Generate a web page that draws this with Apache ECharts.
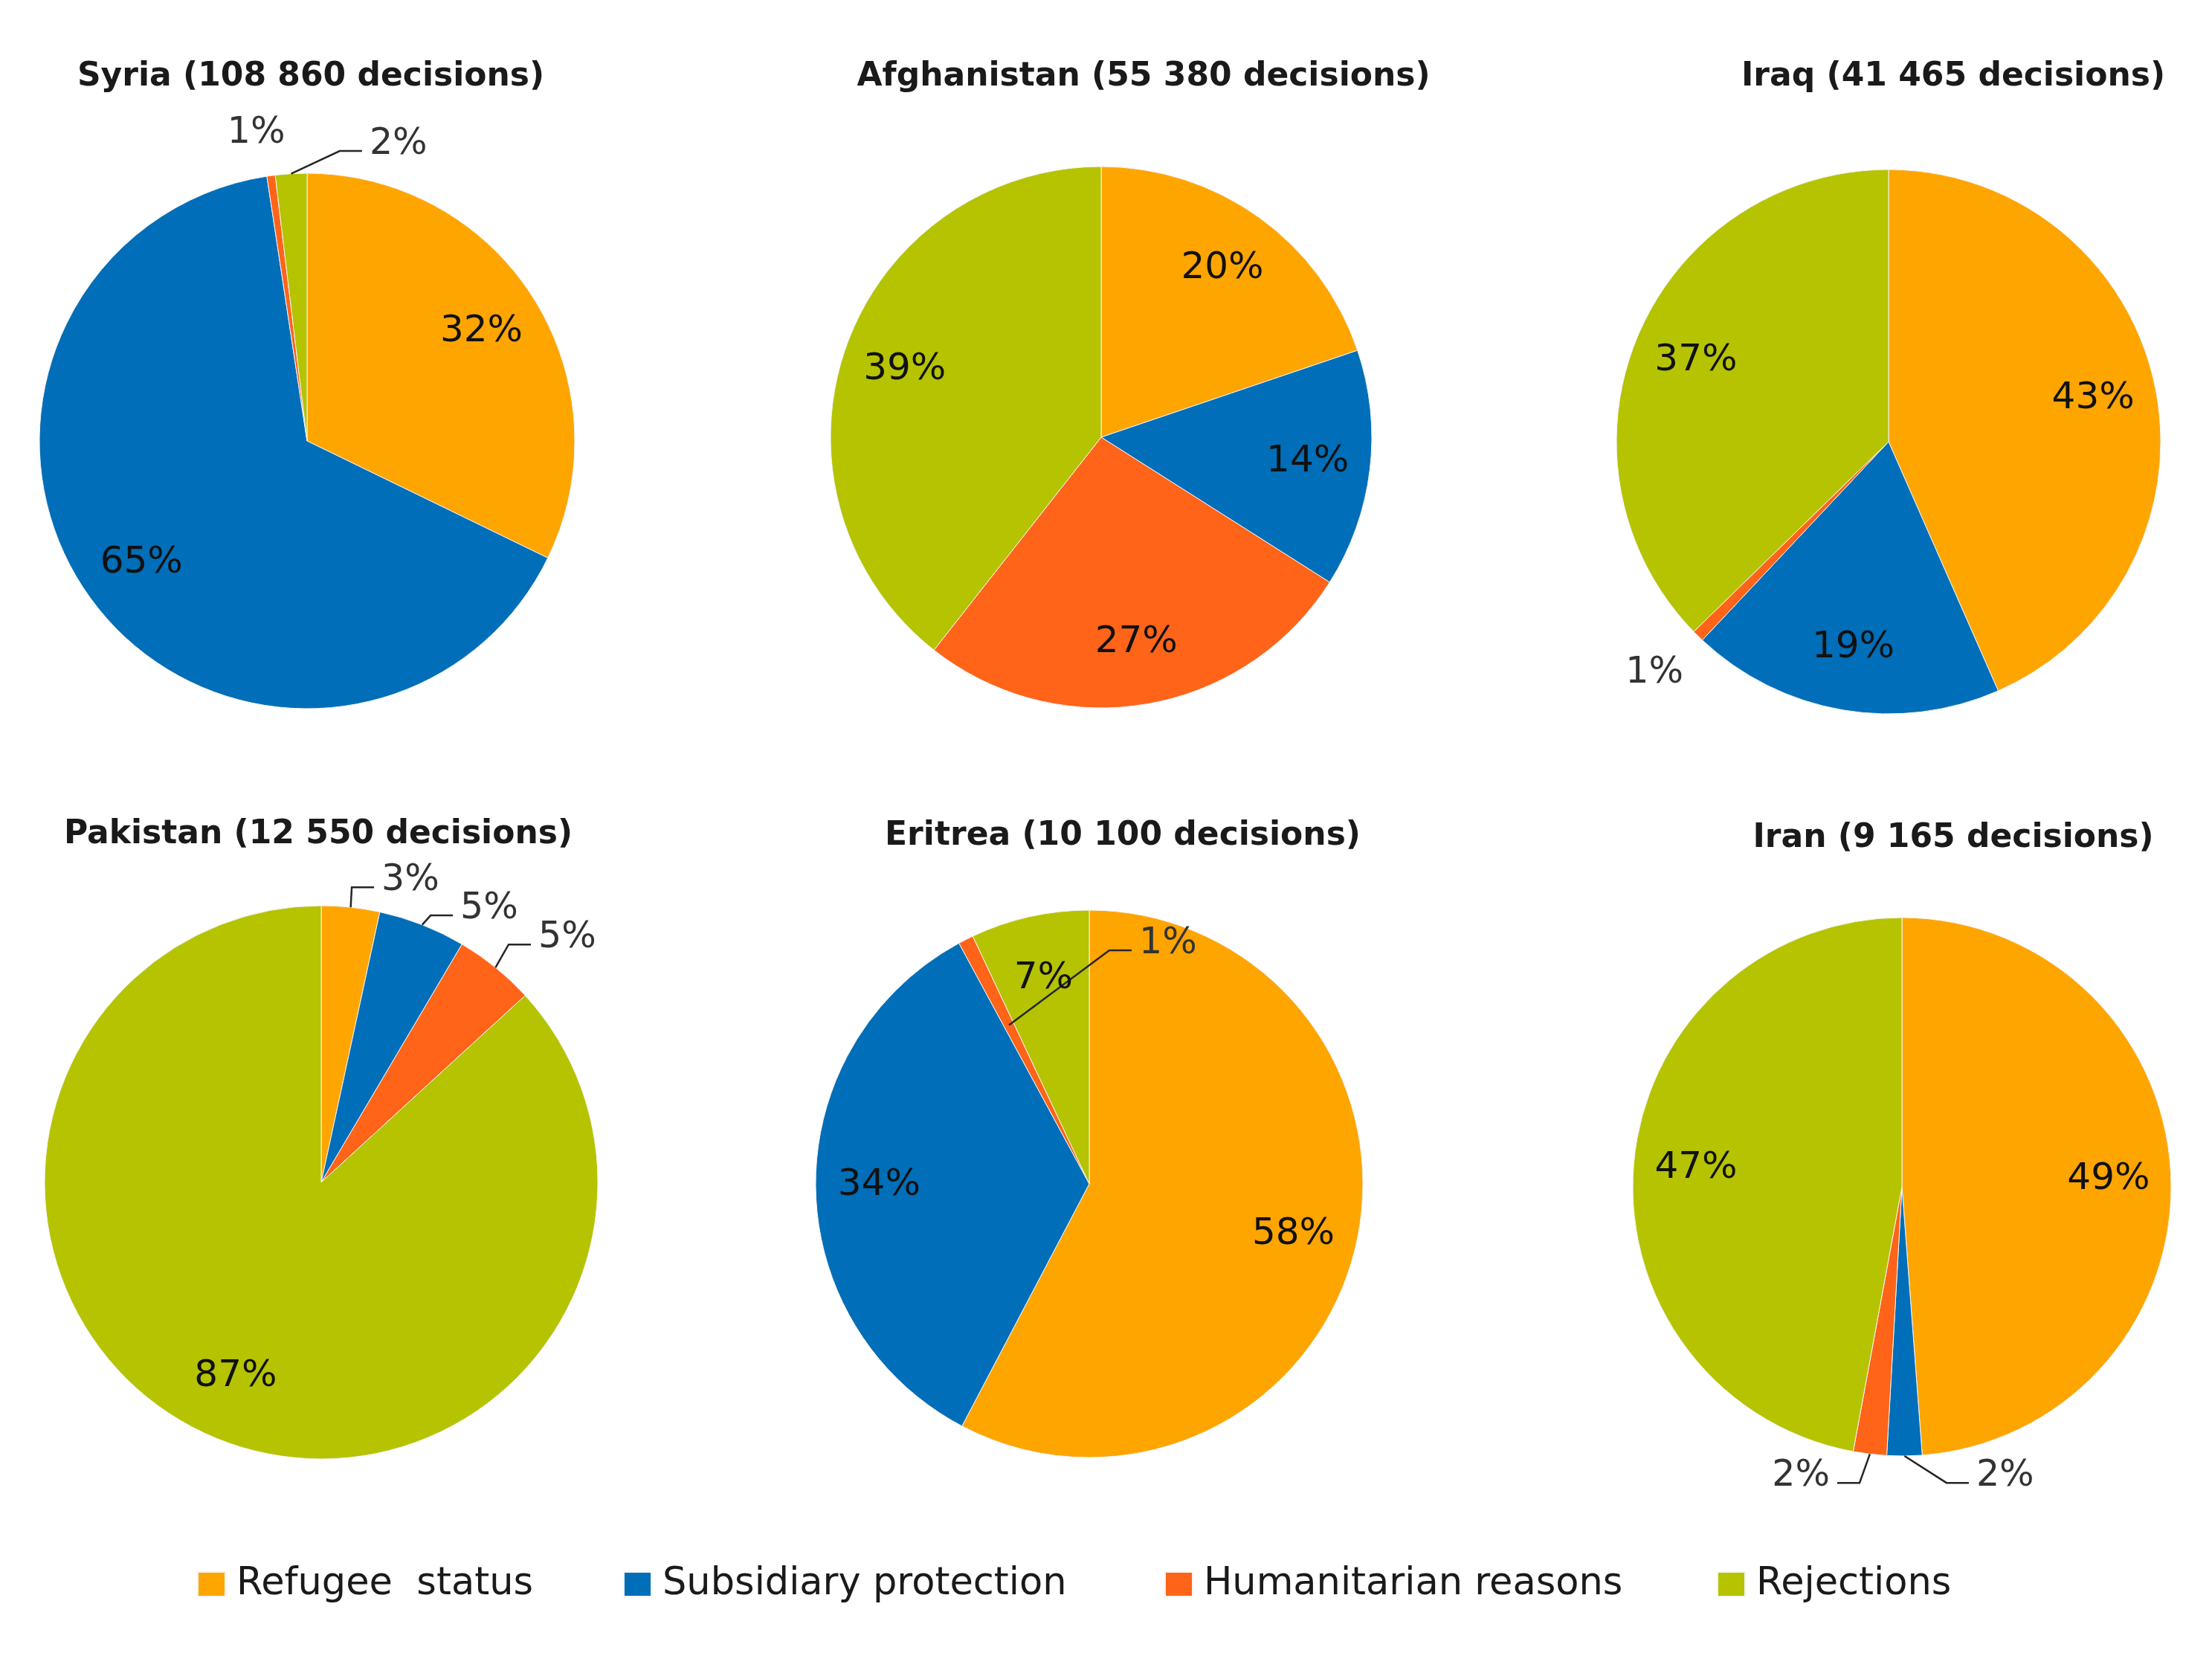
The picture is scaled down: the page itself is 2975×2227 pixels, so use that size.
<!DOCTYPE html>
<html>
<head>
<meta charset="utf-8">
<title>Asylum decisions by country</title>
<script src="https://cdn.jsdelivr.net/npm/echarts/dist/echarts.min.js"></script>
<style>
html, body { margin: 0; padding: 0; background: #fff; }
#chart { width: 2975px; height: 2227px; }
</style>
</head>
<body>
<div id="chart"></div>
<script>
var chartDom = document.getElementById('chart');
var myChart = echarts.init(chartDom);
var option;

// categories, same order in every pie (clockwise from 12 o'clock)
var categories = ['Refugee  status', 'Subsidiary protection', 'Humanitarian reasons', 'Rejections'];
var colors = ['#ffa500', '#006eb8', '#ff6418', '#b5c300'];

var titles = [
    'Syria (108 860 decisions)',
    'Afghanistan (55 380 decisions)',
    'Iraq (41 465 decisions)',
    'Pakistan (12 550 decisions)',
    'Eritrea (10 100 decisions)',
    'Iran (9 165 decisions)'
];

// shares in %
var syria = [32.2, 65.4, 0.5, 1.9];
var afghanistan = [19.8, 14.2, 26.6, 39.4];
var iraq = [43.4, 18.6, 0.7, 37.3];
var pakistan = [3.4, 5.1, 4.7, 86.8];
var eritrea = [57.7, 34.4, 0.9, 7.0];
var iran = [48.8, 2.1, 2.0, 47.1];
var shares = [syria, afghanistan, iraq, pakistan, eritrea, iran];

// layout: pie centre / radius (px) and title centre
var centers = [[413, 593], [1481, 588], [2540, 594], [432, 1590], [1465, 1592], [2558, 1596]];
var radii = [360, 364, 366, 372, 368, 362];
var titleSpots = [[418, 104], [1538, 104], [2627, 104], [428, 1123], [1510, 1125], [2627, 1128]];

// small slices get an outside label; at = offset from centre in radius units
var outside = [
    { 2: { at: [-0.19, -1.15] }, 3: { at: [0.233, -1.108], side: 'left', line: true } },
    {},
    { 2: { at: [-0.86, 0.85] } },
    {
        0: { at: [0.218, -1.091], side: 'left', line: true },
        1: { at: [0.503, -0.989], side: 'left', line: true },
        2: { at: [0.785, -0.884], side: 'left', line: true }
    },
    { 2: { at: [0.182, -0.878], side: 'left', line: true, from: 0.65 } },
    {
        1: { at: [0.276, 1.075], side: 'left', line: true },
        2: { at: [-0.268, 1.075], side: 'right', line: true }
    }
];

var legendLeft = [265, 838, 1566, 2309];

const pct = (p) => Math.round(p.percent) + '%';

const midAngle = (values, idx) => {
    let total = 0, before = 0;
    values.forEach((v, i) => { total += v; if (i < idx) before += v; });
    return (before + values[idx] / 2) / total * Math.PI * 2;
};

const outsideLayout = (k) => (p) => {
    const spot = outside[k][p.dataIndex];
    if (!spot) return {};
    const c = centers[k], r = radii[k];
    const x = c[0] + spot.at[0] * r;
    const y = c[1] + spot.at[1] * r;
    const res = {
        x: x, y: y,
        align: spot.side || 'center',
        verticalAlign: 'middle'
    };
    if (spot.line) {
        const a = midAngle(shares[k], p.dataIndex);
        const s = spot.from || 1;
        const dir = spot.side === 'right' ? 1 : -1;
        const ly = y + 9;
        res.labelLinePoints = [
            [c[0] + Math.sin(a) * r * s, c[1] - Math.cos(a) * r * s],
            [x + dir * 40, ly],
            [x + dir * 10, ly]
        ];
    }
    return res;
};

var series = [];
shares.forEach((values, k) => {
    // the slices
    series.push({
        type: 'pie',
        z: 2,
        center: centers[k],
        radius: radii[k],
        startAngle: 90,
        clockwise: true,
        silent: true,
        itemStyle: { borderColor: '#f4f4f4', borderWidth: 1 },
        label: { show: false },
        labelLine: { show: false },
        data: values.map((v, i) => ({
            name: categories[i],
            value: v,
            itemStyle: { color: colors[i] }
        }))
    });
    // invisible ring on top that carries the labels:
    // inside ones sit at ~3/4 of the radius, small slices get outside labels
    series.push({
        type: 'pie',
        z: 5,
        center: centers[k],
        radius: [radii[k] * 0.52, radii[k]],
        startAngle: 90,
        clockwise: true,
        silent: true,
        avoidLabelOverlap: false,
        itemStyle: { color: 'rgba(0,0,0,0)', borderWidth: 0 },
        label: {
            formatter: pct,
            fontFamily: 'DejaVu Sans',
            fontSize: 50,
            color: '#111111'
        },
        labelLine: { lineStyle: { color: '#262626', width: 2.5 } },
        labelLayout: outsideLayout(k),
        data: values.map((v, i) => {
            const spot = outside[k][i];
            return {
                name: categories[i],
                value: v,
                label: spot
                    ? { position: 'outside', fontSize: 49, color: '#333333' }
                    : { position: 'inside' },
                labelLine: { show: !!(spot && spot.line) }
            };
        })
    });
});

option = {
    backgroundColor: '#ffffff',
    animation: false,
    title: titles.map((t, k) => ({
        text: t,
        left: titleSpots[k][0],
        top: titleSpots[k][1],
        textAlign: 'center',
        textVerticalAlign: 'middle',
        padding: 0,
        textStyle: {
            fontFamily: 'DejaVu Sans',
            fontWeight: 'bold',
            fontSize: 44,
            color: '#1a1a1a'
        }
    })),
    legend: categories.map((c, i) => ({
        left: legendLeft[i],
        top: 2105,
        padding: 0,
        selectedMode: false,
        icon: 'rect',
        itemWidth: 37,
        itemHeight: 33,
        data: [{ name: c, itemStyle: { color: colors[i] } }],
        textStyle: {
            fontFamily: 'DejaVu Sans',
            fontSize: 51,
            color: '#1a1a1a',
            padding: [0, 0, 0, 10]
        }
    })),
    series: series
};

option && myChart.setOption(option);
</script>
</body>
</html>
